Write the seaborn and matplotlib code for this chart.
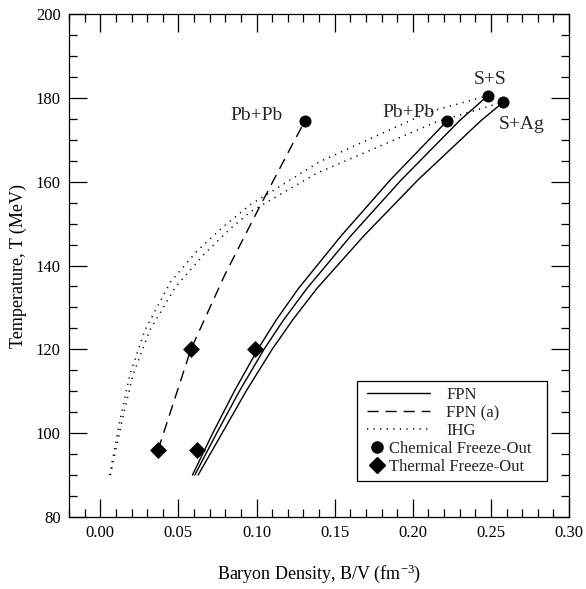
import matplotlib
matplotlib.use("Agg")
import matplotlib.pyplot as plt
from matplotlib.lines import Line2D
from matplotlib.patches import Rectangle
from matplotlib.ticker import MultipleLocator, FormatStrFormatter
import seaborn as sns

# ---- data ----
fpn_pbpb_T = [90, 100, 110, 120, 127, 134.5, 147, 160.4, 174.5]
fpn_pbpb_x = [0.0590, 0.0720, 0.0858, 0.1008, 0.1126, 0.1268, 0.1540, 0.1856, 0.222]
fpn_ss_T = [90, 100, 110, 120, 127, 134.5, 147, 160.4, 174.5, 180.5]
fpn_ss_x = [0.0605, 0.0745, 0.0890, 0.1048, 0.1173, 0.1322, 0.1602, 0.1926, 0.2298, 0.248]
fpn_sag_T = [90, 100, 110, 120, 127, 134.5, 147, 160.4, 174.5, 179]
fpn_sag_x = [0.0626, 0.0780, 0.0933, 0.1100, 0.1231, 0.1386, 0.1685, 0.2033, 0.2435, 0.258]

fpna_x = [0.037, 0.058, 0.080, 0.102, 0.121, 0.131]
fpna_T = [96, 120, 138, 154, 167.5, 174.5]

ihg_ss_x = [0.006, 0.0126, 0.019, 0.0286, 0.045, 0.062, 0.0786, 0.096, 0.1406, 0.211, 0.248]
ihg_ss_T = [90, 103, 114, 124.6, 136.1, 143.5, 149.2, 154.5, 164.8, 176.7, 180.5]
ihg_sag_x = [0.0065, 0.014, 0.021, 0.0318, 0.048, 0.067, 0.083, 0.096, 0.1385, 0.2153, 0.258]
ihg_sag_T = [90, 103, 114, 124.6, 134.8, 142.9, 148.7, 152.8, 162, 174.3, 179]

chem_x = [0.131, 0.222, 0.248, 0.258]
chem_T = [174.5, 174.5, 180.5, 179]
chem_labels = ["Pb+Pb", "Pb+Pb", "S+S", "S+Ag"]

therm_x = [0.037, 0.058, 0.062, 0.099]
therm_T = [96, 120, 96, 120]

legend_labels = ["FPN", "FPN (a)", "IHG", "Chemical Freeze-Out", "Thermal Freeze-Out"]

# ---- style ----
sns.set_theme(style="ticks")
plt.rcParams["font.family"] = ["Liberation Serif", "DejaVu Serif"]
plt.rcParams["mathtext.fontset"] = "custom"
plt.rcParams["mathtext.rm"] = "Liberation Serif"
plt.rcParams["mathtext.it"] = "Liberation Serif:italic"

fig = plt.figure(figsize=(5.86, 5.89), dpi=100)
ax = fig.add_axes([69 / 586, 1 - 517 / 589, 500 / 586, 503 / 589])

lw = 1.0
dash = (0, (8, 5))
dot = (0, (0.8, 3.5))
for xs, ts in [(fpn_pbpb_x, fpn_pbpb_T), (fpn_ss_x, fpn_ss_T), (fpn_sag_x, fpn_sag_T)]:
    sns.lineplot(x=xs, y=ts, ax=ax, color="black", lw=lw, sort=False, estimator=None)
sns.lineplot(x=fpna_x, y=fpna_T, ax=ax, color="black", lw=lw, sort=False,
             estimator=None, linestyle=dash)
for xs, ts in [(ihg_ss_x, ihg_ss_T), (ihg_sag_x, ihg_sag_T)]:
    sns.lineplot(x=xs, y=ts, ax=ax, color="black", lw=1.1, sort=False,
                 estimator=None, linestyle=dot)

sns.scatterplot(x=chem_x, y=chem_T, ax=ax, color="black", marker="o", s=75,
                edgecolor="black", linewidth=0, zorder=5)
sns.scatterplot(x=therm_x, y=therm_T, ax=ax, color="black", marker="D", s=75,
                edgecolor="black", linewidth=0, zorder=5)

offsets = [(-35, 4), (-28, 6), (2, 12), (13, -16)]
for x, t, lab, off in zip(chem_x, chem_T, chem_labels, offsets):
    ax.annotate(lab, (x, t), xytext=off, textcoords="offset points",
                ha="center", va="center", fontsize=14)

ax.set_xlim(-0.02, 0.30)
ax.set_ylim(80, 200)
ax.xaxis.set_major_locator(MultipleLocator(0.05))
ax.xaxis.set_minor_locator(MultipleLocator(0.01))
ax.yaxis.set_major_locator(MultipleLocator(20))
ax.yaxis.set_minor_locator(MultipleLocator(5))
ax.xaxis.set_major_formatter(FormatStrFormatter("%.2f"))
ax.tick_params(which="both", direction="in", top=True, right=True,
               color="black", width=0.9, labelsize=12, labelcolor="black")
ax.tick_params(which="major", length=13, pad=6)
ax.tick_params(which="minor", length=6)
for sp in ax.spines.values():
    sp.set_visible(True)
    sp.set_color("black")
    sp.set_linewidth(0.9)

ax.set_xlabel(r"Baryon Density, B/V (fm$^{-3}$)", fontsize=13, color="black", labelpad=15)
ax.set_ylabel("Temperature, T (MeV)", fontsize=13, color="black", labelpad=6)

# ---- legend ----
ax.add_patch(Rectangle((0.576, 0.0716), 0.38, 0.199, transform=ax.transAxes,
                       fill=False, edgecolor="black", lw=0.9, zorder=6))
line_handles = [
    Line2D([], [], color="black", lw=lw),
    Line2D([], [], color="black", lw=lw, linestyle=dash),
    Line2D([], [], color="black", lw=1.1, linestyle=dot),
]
leg1 = ax.legend(line_handles, legend_labels[:3], loc="upper left",
                 bbox_to_anchor=(0.585, 0.268), frameon=False, fontsize=12,
                 handlelength=3.8, handletextpad=1.0, labelspacing=0.12,
                 borderaxespad=0, borderpad=0.3)
ax.add_artist(leg1)
mark_handles = [
    Line2D([], [], color="black", marker="o", linestyle="none", markersize=8),
    Line2D([], [], color="black", marker="D", linestyle="none", markersize=8),
]
ax.legend(mark_handles, legend_labels[3:], loc="upper left",
          bbox_to_anchor=(0.59, 0.162), frameon=False, fontsize=12,
          handlelength=0.9, handletextpad=0.3, labelspacing=0.12,
          borderaxespad=0, borderpad=0.3)

fig.savefig("out.png", dpi=100)
